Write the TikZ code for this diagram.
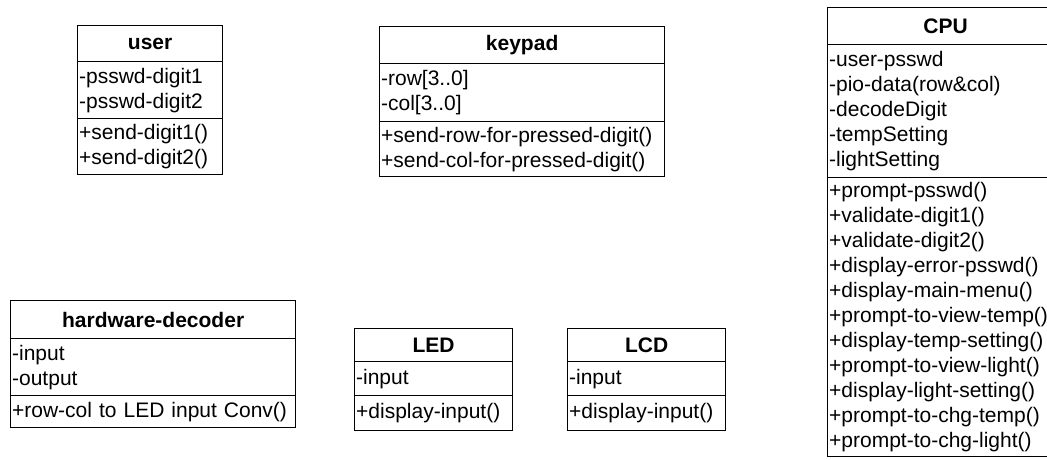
\documentclass[tikz,border=0pt]{standalone}
\usepackage{fontspec}
\setmainfont{Liberation Sans}
\begin{document}
\begin{tikzpicture}[x=1pt,y=-1pt,
  box/.style={draw, line width=1.3pt, inner ysep=0pt, inner xsep=1.5pt, anchor=north west},
  ttl/.style={box, font=\fontsize{21}{25}\selectfont\bfseries, align=center},
  cmp/.style={box, font=\fontsize{21}{25}\selectfont, align=left},
]
\clip (0,0) rectangle (1047,460);

% user
\node[ttl, text width=142pt, minimum height=36pt] (user-t) at (77,25) {user};
\node[cmp, text width=142pt, minimum height=57pt] (user-a) at (77,61) {-psswd-digit1\\-psswd-digit2};
\node[cmp, text width=142pt, minimum height=56pt] (user-o) at (77,118) {+send-digit1()\\+send-digit2()};

% keypad
\node[ttl, text width=282pt, minimum height=37pt] (key-t) at (379,26) {keypad};
\node[cmp, text width=282pt, minimum height=58pt] (key-a) at (379,63) {-row[3..0]\\-col[3..0]};
\node[cmp, text width=282pt, minimum height=55pt] (key-o) at (379,121) {+send-row-for-pressed-digit()\\+send-col-for-pressed-digit()};

% hardware-decoder
\node[ttl, text width=282pt, minimum height=38pt] (hw-t) at (10,300) {hardware-decoder};
\node[cmp, text width=282pt, minimum height=57pt] (hw-a) at (10,338) {-input\\-output};
\node[cmp, text width=282pt, minimum height=32pt] (hw-o) at (10,395) {+row-col to LED input Conv()};

% LED
\node[ttl, text width=155pt, minimum height=33pt] (led-t) at (354,328) {LED};
\node[cmp, text width=155pt, minimum height=34pt] (led-a) at (354,361) {-input};
\node[cmp, text width=155pt, minimum height=35pt] (led-o) at (354,395) {+display-input()};

% LCD
\node[ttl, text width=155pt, minimum height=33pt] (lcd-t) at (567,328) {LCD};
\node[cmp, text width=155pt, minimum height=34pt] (lcd-a) at (567,361) {-input};
\node[cmp, text width=155pt, minimum height=35pt] (lcd-o) at (567,395) {+display-input()};

% CPU (its right side runs past the page edge)
\node[ttl, text width=233pt, minimum height=37pt] (cpu-t) at (827,7) {CPU};
\node[cmp, text width=233pt, minimum height=133pt] (cpu-a) at (827,44)
  {-user-psswd\\-pio-data(row\&col)\\-decodeDigit\\-tempSetting\\-lightSetting};
\node[cmp, text width=233pt, minimum height=279pt] (cpu-o) at (827,177)
  {+prompt-psswd()\\+validate-digit1()\\+validate-digit2()\\+display-error-psswd()\\+display-main-menu()\\+prompt-to-view-temp()\\+display-temp-setting()\\+prompt-to-view-light()\\+display-light-setting()\\+prompt-to-chg-temp()\\+prompt-to-chg-light()};
\end{tikzpicture}
\end{document}
